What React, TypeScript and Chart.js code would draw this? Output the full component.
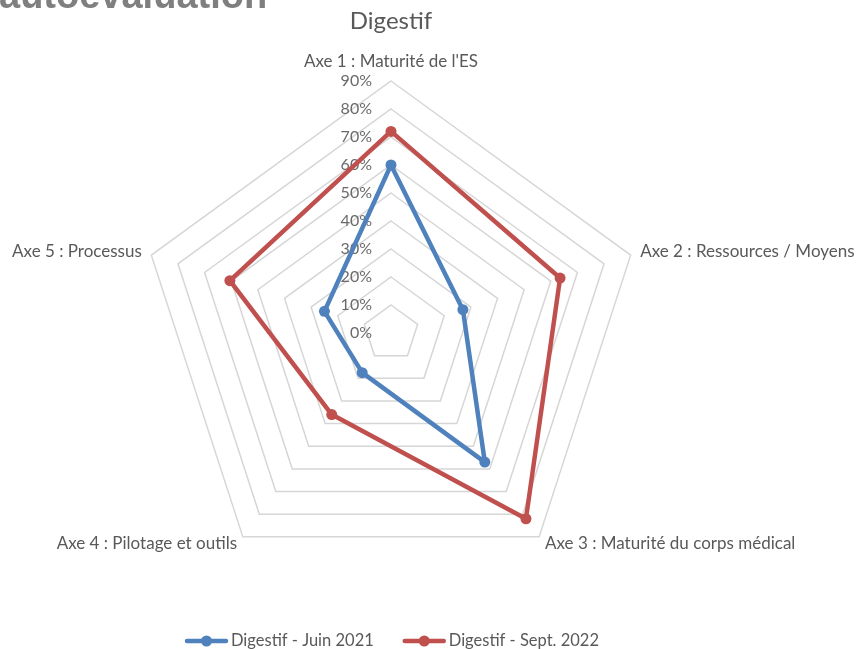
import React, { useEffect, useRef } from "react";
import { Chart, registerables } from "chart.js";

Chart.register(...registerables);

const HEADING = "autoévaluation";
const TITLE = "Digestif";
const AXES = [
  "Axe 1 : Maturité de l'ES",
  "Axe 2 : Ressources / Moyens",
  "Axe 3 : Maturité du corps médical",
  "Axe 4 : Pilotage et outils",
  "Axe 5 : Processus",
];
const SERIES_NAMES = ["Digestif - Juin 2021", "Digestif - Sept. 2022"];
const JUIN_2021 = [0.6, 0.27, 0.57, 0.175, 0.25];
const SEPT_2022 = [0.72, 0.635, 0.82, 0.36, 0.605];
const TICK_MIN = 0;
const TICK_MAX = 0.9;
const TICK_STEP = 0.1;
const COLORS = ["#4F81BD", "#C0504D"];

const FONT = "Lato, 'Open Sans', sans-serif";

const fmtPct = (v: number) => Math.round(v * 100) + "%";

const decor = {
  id: "decor",
  beforeDatasetsDraw(chart: any) {
    const ctx = chart.ctx;
    const s = chart.scales.r;
    ctx.save();
    ctx.font = `16px ${FONT}`;
    ctx.fillStyle = "#6a6a6a";
    ctx.textAlign = "right";
    ctx.textBaseline = "middle";
    s.ticks.forEach((t: any) => {
      const d = s.getDistanceFromCenterForValue(t.value);
      ctx.fillText(fmtPct(t.value), s.xCenter - 19, s.yCenter - d);
    });
    ctx.restore();
  },
  afterDraw(chart: any) {
    const ctx = chart.ctx;
    const s = chart.scales.r;
    ctx.save();
    // heading (cut off at top)
    ctx.font = `bold 38px 'Liberation Sans', Arial, sans-serif`;
    ctx.fillStyle = "#7f7f7f";
    ctx.textAlign = "left";
    ctx.textBaseline = "alphabetic";
    ctx.fillText(HEADING, -1, 8);

    // title
    ctx.font = `24px ${FONT}`;
    ctx.fillStyle = "#595959";
    ctx.textAlign = "center";
    ctx.fillText(TITLE, s.xCenter, 29);

    // point labels
    ctx.font = `17px ${FONT}`;
    ctx.fillStyle = "#595959";
    AXES.forEach((lab, i) => {
      const p = s.getPointPosition(i, s.drawingArea + 10);
      if (Math.abs(p.x - s.xCenter) < 1) {
        ctx.textAlign = "center";
        ctx.textBaseline = "alphabetic";
        ctx.fillText(lab, p.x, p.y - 4);
      } else {
        ctx.textAlign = p.x > s.xCenter ? "left" : "right";
        ctx.textBaseline = "middle";
        ctx.fillText(lab, p.x, p.y - 1);
      }
    });

    // legend
    ctx.font = `16.5px ${FONT}`;
    const lineLen = 43;
    const gapText = 3;
    const gapItems = 29;
    const widths = chart.data.datasets.map(
      (ds: any) => lineLen + gapText + ctx.measureText(ds.label).width
    );
    const total = widths.reduce((a: number, b: number) => a + b, 0) + gapItems * (widths.length - 1);
    let x = s.xCenter + 1 - total / 2;
    const y = 641;
    chart.data.datasets.forEach((ds: any, i: number) => {
      ctx.strokeStyle = ds.borderColor;
      ctx.lineWidth = 4.5;
      ctx.lineCap = "round";
      ctx.beginPath();
      ctx.moveTo(x + 2, y);
      ctx.lineTo(x + lineLen - 2, y);
      ctx.stroke();
      ctx.fillStyle = ds.borderColor;
      ctx.beginPath();
      ctx.arc(x + lineLen / 2, y, 5.5, 0, Math.PI * 2);
      ctx.fill();
      ctx.fillStyle = "#595959";
      ctx.textAlign = "left";
      ctx.textBaseline = "middle";
      ctx.fillText(ds.label, x + lineLen + gapText, y);
      x += widths[i] + gapItems;
    });
    ctx.restore();
  },
};

export default function App() {
  const ref = useRef<HTMLCanvasElement | null>(null);
  useEffect(() => {
    if (!ref.current) return;
    const mk = (label: string, data: number[], color: string) => ({
      label,
      data,
      borderColor: color,
      backgroundColor: color,
      pointBackgroundColor: color,
      pointBorderColor: color,
      borderWidth: 4.5,
      pointRadius: 5.5,
      pointBorderWidth: 0,
      borderJoinStyle: "round",
      fill: false,
      tension: 0,
    });
    const chart = new Chart(ref.current, {
      type: "radar",
      data: {
        labels: AXES,
        datasets: [
          mk(SERIES_NAMES[0], JUIN_2021, COLORS[0]),
          mk(SERIES_NAMES[1], SEPT_2022, COLORS[1]),
        ],
      },
      options: {
        animation: false,
        responsive: true,
        maintainAspectRatio: false,
        layout: { padding: { left: 139, right: 213, top: 81, bottom: 64 } },
        plugins: {
          legend: { display: false },
          title: { display: false },
          tooltip: { enabled: false },
        },
        scales: {
          r: {
            min: TICK_MIN,
            max: TICK_MAX,
            ticks: { display: false, stepSize: TICK_STEP },
            grid: { color: "#d6d6d6", lineWidth: 1.5, circular: false },
            angleLines: { display: false },
            pointLabels: { display: false },
          },
        },
      },
      plugins: [decor],
    } as any);
    return () => chart.destroy();
  }, []);
  return (
    <div style={{ position: "absolute", left: 0, top: 0, width: 856, height: 649 }}>
      <canvas ref={ref} />
    </div>
  );
}
